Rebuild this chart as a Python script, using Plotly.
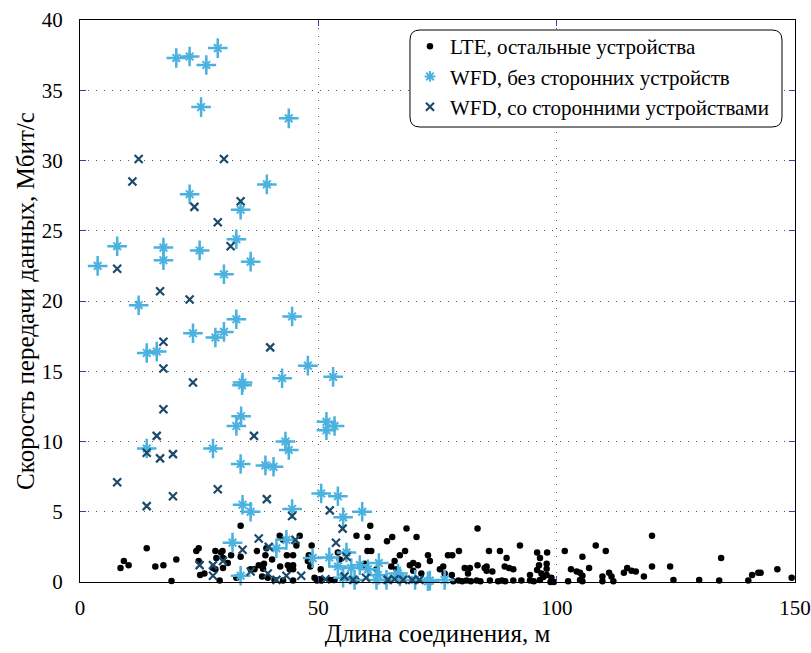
import plotly.graph_objects as go

# LTE, остальные устройства
lte_x = [8.5, 9.2, 10.2, 14.0, 15.8, 17.5, 19.2, 20.2, 24.4, 24.9, 24.9, 25.2, 26.1, 28.4, 28.6,
         29.6, 30.0, 27.9, 31.0, 31.7, 29.3, 33.7, 33.7, 32.8, 35.8, 36.6, 37.1, 37.5, 38.4, 38.6,
         38.9, 39.1, 40.3, 41.9, 42.0, 43.4, 44.7, 43.6, 44.7, 45.4, 46.1, 44.7, 44.0, 44.7, 47.8,
         48.3, 48.6, 48.0, 49.2, 50.5, 49.7, 50.6, 40.8, 42.6, 38.2, 39.4, 29.9, 28.4, 30.0, 42.6,
         50.3, 52.4, 53.1, 54.1, 54.5, 53.4, 58.0, 58.0, 59.4, 60.3, 60.9, 60.3, 61.1, 59.7, 62.2,
         65.5, 64.4, 68.5, 70.6, 68.2, 67.1, 66.0, 65.3, 66.4, 69.2, 69.9, 70.9, 69.9, 73.0, 73.4,
         71.6, 75.5, 76.2, 76.5, 78.0, 77.2, 78.1, 79.5, 80.7, 81.8, 81.4, 83.4, 83.4, 84.9, 85.3,
         85.3, 86.5, 85.8, 88.1, 89.5, 89.1, 90.0, 90.9, 92.3,
         78.3, 79.4, 80.2, 81.1, 82.0, 83.2, 84.0, 86.0, 87.7, 88.5, 89.2, 90.9, 92.6, 94.4, 95.2,
         94.4, 95.9, 98.0, 96.5, 97.9, 96.3, 97.9, 95.9, 96.8, 97.9, 97.2, 98.9, 96.5, 98.7, 99.4,
         101.7, 102.4, 103.0, 104.2, 104.9, 105.4, 104.9, 105.4, 105.4, 106.8, 108.2, 109.6, 109.6,
         110.3, 111.0, 111.5, 111.9, 114.1, 114.8, 115.7, 116.6, 118.3, 120.0, 120.0, 123.8, 124.5,
         129.9, 134.1, 134.5, 140.2, 141.0, 142.3, 142.8, 146.3, 149.3]
lte_y = [1.0, 1.5, 1.2, 2.4, 1.1, 1.2, 0.07, 1.6, 2.2, 2.4, 1.5, 0.5, 0.6, 2.2, 1.7,
         2.1, 1.7, 1.0, 1.35, 1.9, 0.1, 4.0, 1.8, 0.3, 0.9, 0.9, 2.2, 1.2, 0.95, 1.3,
         1.9, 2.4, 1.6, 3.3, 1.1, 1.9, 1.9, 1.2, 1.2, 2.6, 3.3, 0.9, 0.9, 0.1, 1.5,
         1.1, 2.6, 1.9, 0.3, 0.9, 0.1, 0.1, 0.15, 0.1, 0.4, 0.3, 2.2, 0.9, 1.0, 3.0,
         0.2, 0.15, 0.15, 2.1, 1.6, 0.15, 3.3, 0.15, 1.2, 3.2, 4.0, 2.2, 2.2, 1.3, 0.9,
         3.2, 2.9, 3.8, 3.2, 2.2, 1.9, 1.5, 1.1, 0.9, 1.2, 1.35, 1.2, 0.8, 1.9, 1.5,
         0.6, 0.9, 1.1, 0.6, 0.5, 1.9, 1.9, 2.2, 1.0, 1.0, 0.6, 3.8, 1.2, 1.0, 1.1,
         0.8, 0.75, 2.2, 2.2, 1.7, 1.1, 1.0, 0.9, 2.6,
         0.05, 0.1, 0.05, 0.1, 0.05, 0.1, 0.05, 0.1, 0.05, 0.1, 0.05, 0.1, 0.1, 0.5, 0.05,
         0.1, 2.1, 2.1, 1.7, 1.3, 1.2, 0.95, 0.85, 0.6, 0.5, 0.35, 0.3, 0.15, 0.0, 0.0,
         2.2, 0.05, 0.9, 0.75, 0.65, 0.45, 0.15, 0.05, 1.8, 1.0, 2.6, 0.4, 0.05,
         2.2, 0.65, 0.4, 0.05, 0.65, 1.0, 0.8, 0.75, 0.4, 3.3, 1.1, 1.1, 0.15,
         0.15, 0.1, 1.7, 0.1, 0.5, 0.65, 0.65, 0.9, 0.3]

# WFD, без сторонних устройств
wfd_free_x = [20.2, 23.0, 26.5, 28.9, 25.4, 43.8, 39.2, 23.0, 33.7, 32.8, 7.8, 17.5, 17.5, 25.1,
              35.8, 3.7, 30.2, 12.3, 14.0, 16.1, 23.7, 28.4, 30.2, 32.8, 44.5, 34.1, 34.0, 42.4,
              47.8, 53.1, 32.8, 33.8, 51.7, 51.7, 53.4, 14.0, 27.9, 43.1, 43.8, 33.7, 38.9, 40.6,
              50.6, 54.1, 34.1, 35.8, 44.5, 55.2, 59.2, 32.0, 43.3, 41.2, 48.8, 52.3, 33.7, 55.9,
              54.1, 56.9, 58.7, 60.4, 62.7, 62.5, 55.2, 57.6, 62.2, 66.7, 64.3, 67.1, 70.3, 73.0,
              76.5, 73.4]
wfd_free_y = [37.3, 37.4, 36.8, 38.0, 33.8, 33.0, 28.3, 27.6, 26.5, 24.4, 23.9, 23.8, 22.9, 23.6,
              22.8, 22.5, 21.9, 19.7, 16.3, 16.4, 17.7, 17.4, 17.8, 18.7, 18.9, 14.2, 14.0, 14.5,
              15.4, 14.6, 11.1, 11.8, 11.4, 10.8, 11.1, 9.5, 9.5, 10.0, 9.4, 8.4, 8.3, 8.2,
              6.3, 6.1, 5.5, 5.0, 5.2, 4.6, 5.0, 2.8, 3.0, 2.4, 1.7, 1.75, 0.45, 2.1,
              1.1, 1.0, 1.2, 0.9, 1.35, 0.5, 0.3, 0.15, 0.15, 0.6, 0.15, 0.4, 0.15, 0.05,
              0.15, 0.1]

# WFD, со сторонними устройствами
wfd_busy_x = [12.3, 30.2, 11.0, 24.0, 33.7, 28.9, 31.6, 7.8, 16.8, 23.0, 17.5, 17.5, 23.7, 39.9,
              17.5, 16.1, 14.0, 16.8, 19.5, 36.5, 7.8, 28.9, 19.5, 39.2, 14.0, 44.5, 52.4, 55.1,
              53.7, 37.5, 45.2, 39.6, 34.1, 25.1, 27.9, 30.0, 27.9, 35.8, 39.4, 41.2, 43.3, 46.4,
              51.5, 55.9, 55.5, 57.3, 60.0, 64.6, 66.0, 67.8, 69.7, 71.2]
wfd_busy_y = [30.1, 30.1, 28.5, 26.7, 27.1, 25.6, 23.9, 22.3, 20.7, 20.1, 17.1, 15.2, 14.2, 16.7,
              12.3, 10.4, 9.2, 8.8, 9.1, 10.4, 7.1, 6.6, 6.1, 5.9, 5.4, 4.7, 5.1, 3.8,
              2.8, 3.1, 3.0, 2.5, 2.3, 1.2, 1.2, 1.5, 0.45, 0.75, 0.6, 0.15, 0.45, 0.45,
              0.2, 1.8, 0.4, 0.15, 0.3, 0.15, 0.2, 0.15, 0.15, 0.15]

x_ticks = [0, 50, 100, 150]
y_ticks = [0, 5, 10, 15, 20, 25, 30, 35, 40]

SERIF = "Liberation Serif"
BLUE = "#4BB2DF"
NAVY = "#1B4A6B"

fig = go.Figure()
fig.add_trace(go.Scatter(
    x=lte_x, y=lte_y, mode="markers", name="LTE, остальные устройства",
    legendgroup="a", cliponaxis=False,
    marker=dict(symbol="circle", size=6.5, color="black", line=dict(width=0)),
))
# long horizontal/vertical arms of the star marker
fig.add_trace(go.Scatter(
    x=wfd_free_x, y=wfd_free_y, mode="markers", showlegend=False,
    legendgroup="b", cliponaxis=False, hoverinfo="skip",
    marker=dict(symbol="cross-thin-open", size=14, color=BLUE,
                line=dict(width=2.5, color=BLUE)),
))
# short diagonal arms of the star marker
fig.add_trace(go.Scatter(
    x=wfd_free_x, y=wfd_free_y, mode="markers", name="WFD, без сторонних устройств",
    legendgroup="b", cliponaxis=False,
    marker=dict(symbol="asterisk-open", size=9, color=BLUE,
                line=dict(width=2, color=BLUE)),
))
fig.add_trace(go.Scatter(
    x=wfd_busy_x, y=wfd_busy_y, mode="markers", name="WFD, со сторонними устройствами",
    legendgroup="c", cliponaxis=False,
    marker=dict(symbol="x-thin-open", size=8, color=NAVY,
                line=dict(width=2.2, color=NAVY)),
))

axis_common = dict(
    showline=True, linecolor="black", linewidth=1, mirror="ticks",
    ticks="inside", ticklen=6, tickcolor="#33449a",
    showgrid=True, gridcolor="#555555", gridwidth=1, griddash="1px,7px",
    zeroline=False, automargin=False,
    tickfont=dict(family=SERIF, size=21, color="black"),
)

fig.update_xaxes(
    range=[0, 150], tickvals=x_ticks, ticklabelstandoff=7,
    title=dict(text="Длина соединения, м", font=dict(family=SERIF, size=25, color="black"),
               standoff=2),
    **axis_common,
)
fig.update_yaxes(
    range=[0, 40], tickvals=y_ticks, ticklabelstandoff=12,
    title=dict(text="Скорость передачи данных, Мбит/с",
               font=dict(family=SERIF, size=25, color="black"), standoff=0),
    **axis_common,
)

# rounded frame behind the legend entries
lx0, lx1, ly0, ly1, r = 0.4615, 0.9818, 0.8096, 0.9822, 0.014
ry = r * 715 / 562
legend_path = (
    f"M {lx0 + r},{ly1} L {lx1 - r},{ly1} Q {lx1},{ly1} {lx1},{ly1 - ry} "
    f"L {lx1},{ly0 + ry} Q {lx1},{ly0} {lx1 - r},{ly0} "
    f"L {lx0 + r},{ly0} Q {lx0},{ly0} {lx0},{ly0 + ry} "
    f"L {lx0},{ly1 - ry} Q {lx0},{ly1} {lx0 + r},{ly1} Z"
)
fig.add_shape(type="path", path=legend_path, xref="paper", yref="paper",
              line=dict(color="black", width=1), fillcolor="white", layer="above")

fig.update_layout(
    width=811, height=653,
    margin=dict(l=80, r=16, t=20, b=71),
    paper_bgcolor="white", plot_bgcolor="white",
    font=dict(family=SERIF, color="black"),
    legend=dict(
        x=0.4615, y=0.9893, xanchor="left", yanchor="top",
        bgcolor="rgba(0,0,0,0)", borderwidth=0,
        font=dict(family=SERIF, size=21, color="black"),
        traceorder="grouped", tracegroupgap=0,
    ),
    showlegend=True,
)

fig.write_html("out.html")
